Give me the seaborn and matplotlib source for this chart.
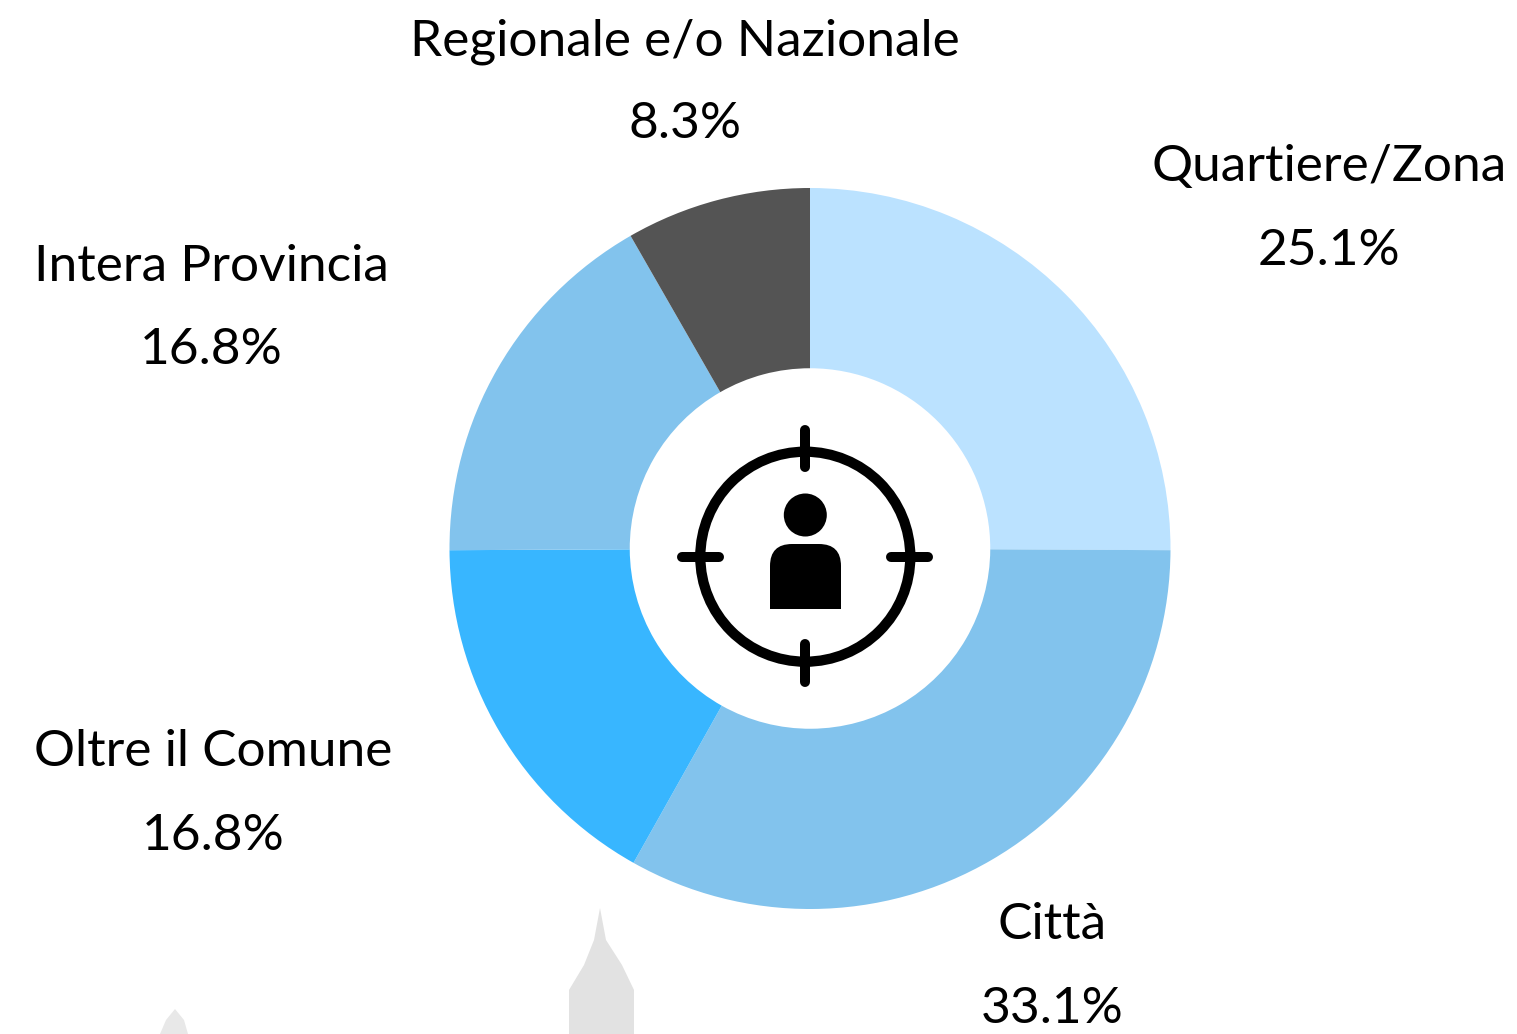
import matplotlib
matplotlib.use("Agg")
import matplotlib.pyplot as plt
from matplotlib.patches import Circle, PathPatch, Polygon
from matplotlib.path import Path
import seaborn as sns

# Values, clockwise from 12 o'clock
categories = ["Quartiere/Zona", "Città", "Oltre il Comune", "Intera Provincia", "Regionale e/o Nazionale"]
shares = [25.1, 33.1, 16.8, 16.8, 8.3]
slice_colors = ["#BBE2FF", "#82C3ED", "#38B6FF", "#82C3ED", "#545454"]

W, H = 1517, 1034
CX, CY, R = 810, 548.5, 360.5

# label centres in pixels: name y and value y
label_x = [1329, 1052, 213, 211, 685]
name_y = [167, 925, 752, 267, 42]
value_y = [251, 1009, 836, 350, 124]

sns.set_theme(style="white")
plt.rcParams["font.family"] = ["Lato", "DejaVu Sans"]

fig = plt.figure(figsize=(W / 100, H / 100), dpi=100, facecolor="white")

# Donut
ax = fig.add_axes([(CX - R) / W, 1 - (CY + R) / H, 2 * R / W, 2 * R / H])
ax.pie(shares, colors=slice_colors, startangle=90, counterclock=False, radius=1,
       wedgeprops=dict(width=0.5, linewidth=0))
ax.set_xlim(-1, 1)
ax.set_ylim(-1, 1)
ax.set_aspect("equal")

# Overlay in pixel coordinates for the labels and the icon
top = fig.add_axes([0, 0, 1, 1], facecolor="none")
top.set_xlim(0, W)
top.set_ylim(H, 0)
top.axis("off")

for name, share, x, y1, y2 in zip(categories, shares, label_x, name_y, value_y):
    top.text(x, y1, name, ha="center", va="center", fontsize=37, color="black")
    top.text(x, y2, f"{share}%", ha="center", va="center", fontsize=37, color="black")

# Target icon
icon_x, icon_y = 805.3, 556.7
top.add_patch(Circle((icon_x, icon_y), 105, fill=False, ec="black", lw=7.4))
ticks = [((icon_x, 430), (icon_x, 467)), ((icon_x, 644), (icon_x, 682)),
         ((682, icon_y), (719, icon_y)), ((891, icon_y), (928, icon_y))]
for a, b in ticks:
    top.plot([a[0], b[0]], [a[1], b[1]], color="black", lw=7.2, solid_capstyle="round")
top.add_patch(Circle((icon_x, 515), 21.5, fc="black", ec="none"))
body = Path([(770, 609), (770, 566), (770, 544), (792, 544), (819, 544), (841, 544),
             (841, 566), (841, 609), (770, 609)],
            [Path.MOVETO, Path.LINETO, Path.CURVE3, Path.CURVE3, Path.LINETO,
             Path.CURVE3, Path.CURVE3, Path.LINETO, Path.CLOSEPOLY])
top.add_patch(PathPatch(body, fc="black", ec="none"))

# Faint grey smudges at the bottom edge of the original image
top.add_patch(Polygon([(569, 1034), (569, 990), (584, 965), (594, 940), (600, 908), (606, 940),
                       (622, 965), (634, 990), (634, 1034)], fc="#E2E2E2", ec="none"))
top.add_patch(Polygon([(160, 1034), (166, 1020), (175, 1009), (184, 1020), (188, 1034)],
                      fc="#E8E8E8", ec="none"))

fig.savefig("out.png", dpi=100)
